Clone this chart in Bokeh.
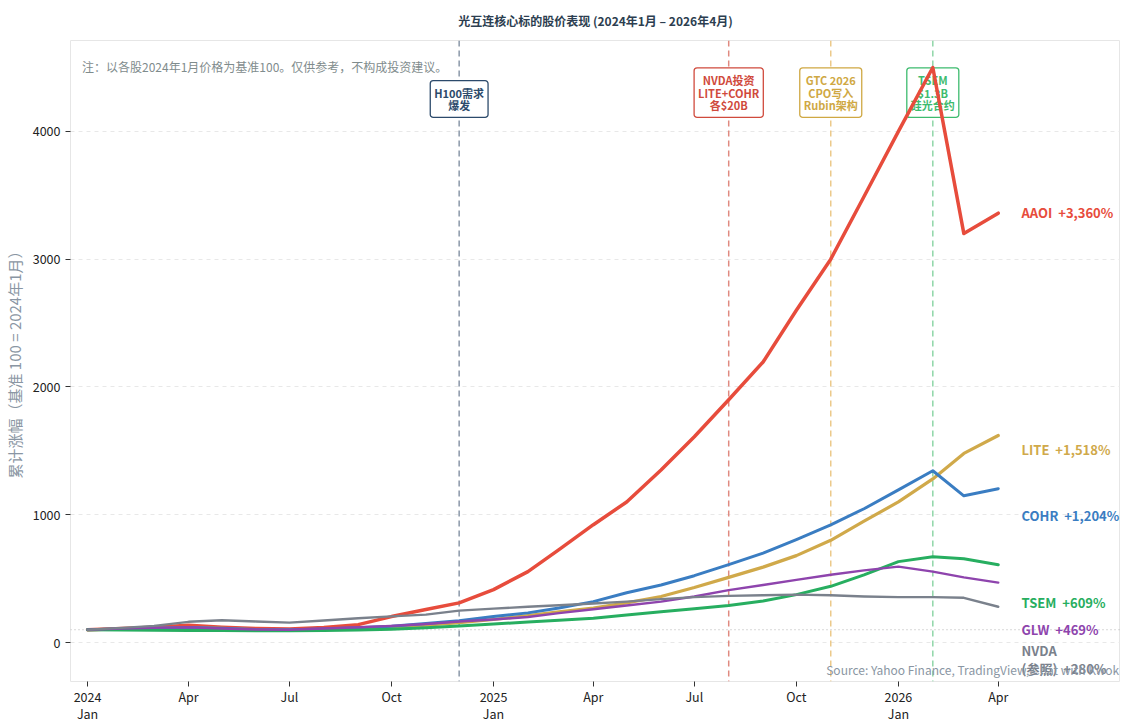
import pandas as pd
from bokeh.plotting import figure
from bokeh.models import ColumnDataSource, Span, FixedTicker, Range1d, Label
from bokeh.core.properties import value
from bokeh.embed import file_html
from bokeh.resources import INLINE

FONT = "Noto Sans CJK SC"

months = pd.date_range("2024-01-01", periods=28, freq="MS")

AAOI = [100, 110, 120, 135, 120, 110, 105, 117, 140, 203, 258, 310,
        414, 555, 727, 922, 1100, 1350, 1610, 1900, 2195, 2600, 3000, 3490,
        4000, 4500, 3200, 3360]
LITE = [100, 105, 110, 115, 110, 100, 98, 100, 108, 118, 135, 155,
        180, 210, 240, 270, 310, 360, 430, 510, 590, 680, 800, 950,
        1100, 1280, 1480, 1620]
COHR = [100, 105, 112, 118, 112, 102, 100, 105, 115, 128, 148, 170,
        203, 232, 270, 320, 390, 450, 523, 610, 700, 805, 920, 1047,
        1195, 1344, 1148, 1204]
TSEM = [100, 98, 96, 95, 94, 92, 92, 94, 98, 104, 115, 130,
        145, 160, 175, 190, 215, 240, 265, 290, 325, 375, 440, 530,
        633, 672, 655, 609]
GLW = [100, 110, 115, 120, 110, 102, 100, 110, 120, 130, 145, 165,
       180, 200, 230, 260, 290, 320, 360, 410, 450, 490, 530, 565,
       594, 555, 510, 469]
NVDA = [100, 115, 130, 162, 174, 165, 156, 172, 190, 205, 218, 250,
        265, 280, 292, 305, 320, 340, 355, 365, 370, 375, 370, 360,
        355, 355, 350, 280]

names = ["AAOI", "LITE", "COHR", "TSEM", "GLW", "NVDA"]
series = [AAOI, LITE, COHR, TSEM, GLW, NVDA]
colors = ["#e74c3c", "#d0a94a", "#3a7dc2", "#27ae60", "#8e44ad", "#7a818c"]
widths = [3.5, 3.2, 3.0, 3.0, 2.4, 2.4]
NB = "\u00a0 "
end_texts = ["AAOI" + NB + "+3,360%", "LITE" + NB + "+1,518%",
             "COHR" + NB + "+1,204%", "TSEM" + NB + "+609%",
             "GLW" + NB + "+469%", "NVDA\n(参照)" + NB + "+280%"]
end_label_y = [3367, 1508, 992, 312, 102, -133]

events = ["2024-12-01", "2025-08-01", "2025-11-01", "2026-02-01"]
event_texts = ["H100需求\n爆发", "NVDA投资\nLITE+COHR\n各$20B",
               "GTC 2026\nCPO写入\nRubin架构", "TSEM\n$1.3B\n硅光合约"]
event_colors = ["#2c4a6b", "#d04a3c", "#cfa843", "#3dbb6e"]
event_line_colors = ["#8a97a8", "#e08a80", "#ecc98a", "#8fd6a8"]

quarter_ticks = pd.date_range("2024-01-01", "2026-04-01", freq="QS")
tick_ms = [int(t.value // 10**6) for t in quarter_ticks]
tick_labels = []
for t in quarter_ticks:
    if t.month == 1:
        tick_labels.append(f"{t.year}\nJan")
    else:
        tick_labels.append(t.strftime("%b"))

x0 = pd.Timestamp("2023-12-16 15:00")
x1 = pd.Timestamp("2026-07-20 05:00")

p = figure(width=1120, height=726, x_axis_type="datetime",
           output_backend="svg", toolbar_location=None,
           x_range=Range1d(x0, x1), y_range=Range1d(-305, 4711),
           min_border_left=62, min_border_right=0, min_border_top=40,
           min_border_bottom=40)

p.title.text = "光互连核心标的股价表现 (2024年1月 – 2026年4月)"
p.title.align = "center"
p.title.vertical_align = "top"
p.title.text_font = FONT
p.title.text_font_size = "12px"
p.title.text_font_style = "bold"
p.title.text_color = "#2c3e50"
p.title.standoff = 20

p.outline_line_color = "#e6e6e6"
p.background_fill_color = "white"
p.border_fill_color = "white"

p.xgrid.grid_line_color = None
p.ygrid.grid_line_color = "#e8e8e8"
p.ygrid.grid_line_dash = "4 4"
p.yaxis.ticker = FixedTicker(ticks=[0, 1000, 2000, 3000, 4000])
p.xaxis.ticker = FixedTicker(ticks=tick_ms)
p.xaxis.major_label_overrides = dict(zip(tick_ms, tick_labels))

for ax in (p.xaxis[0], p.yaxis[0]):
    ax.axis_line_color = None
    ax.major_tick_line_color = "#333333"
    ax.minor_tick_line_color = None
    ax.major_tick_in = 0
    ax.major_tick_out = 5
    ax.major_label_text_font = FONT
    ax.major_label_text_font_size = "12.5px"
    ax.major_label_text_color = "#222222"
p.xaxis.major_label_text_line_height = 0.94
p.xaxis.major_label_standoff = 0

p.yaxis.axis_label = "累计涨幅（基准 100 = 2024年1月）"
p.yaxis.axis_label_text_font = FONT
p.yaxis.axis_label_text_font_size = "15px"
p.yaxis.axis_label_text_font_style = "normal"
p.yaxis.axis_label_text_color = "#8a96a3"
p.yaxis.axis_label_standoff = 5

# baseline 100
p.add_layout(Span(location=100, dimension="width", line_color="#b0b0b0",
                  line_dash="1 3", line_width=1, level="underlay"))

for d, c in zip(events, event_line_colors):
    p.add_layout(Span(location=pd.Timestamp(d), dimension="height",
                      line_color=c, line_dash="6 4", line_width=1.5,
                      level="underlay"))

ev_src = ColumnDataSource(dict(x=[pd.Timestamp(d) for d in events],
                               y=[4109] * len(events),
                               text=event_texts, color=event_colors))
p.text(x="x", y="y", text="text", source=ev_src, text_color="color",
       text_font=value(FONT), text_font_size="11px", text_font_style="bold",
       text_align="center", text_baseline="bottom", text_line_height=0.8,
       background_fill_color="white", border_line_color="color",
       border_line_width=1.3, padding=4, border_radius=3)

for name, vals, c, w in zip(names, series, colors, widths):
    src = ColumnDataSource(dict(x=months, y=vals))
    p.line("x", "y", source=src, line_color=c, line_width=w,
           line_join="round", line_cap="round")

lab_src = ColumnDataSource(dict(x=[pd.Timestamp("2026-04-22")] * len(names),
                                y=end_label_y, text=end_texts, color=colors))
p.text(x="x", y="y", text="text", source=lab_src, text_color="color",
       text_font=value(FONT), text_font_size="13px", text_font_style="bold",
       text_align="left", text_baseline="middle", text_line_height=0.95)

p.add_layout(Label(x=pd.Timestamp("2023-12-27"), y=4508,
                   text="注：以各股2024年1月价格为基准100。仅供参考，不构成投资建议。",
                   text_font=FONT, text_font_size="12px", text_color="#7f8c8d",
                   text_baseline="middle"))
p.add_layout(Label(x=pd.Timestamp("2026-07-19"), y=-211,
                   text="Source: Yahoo Finance, TradingView, Chat with Kwok",
                   text_font=FONT, text_font_size="12px", text_color="#8a96a3",
                   text_align="right", text_baseline="middle"))

open("out.html", "w").write(file_html(p, INLINE))
